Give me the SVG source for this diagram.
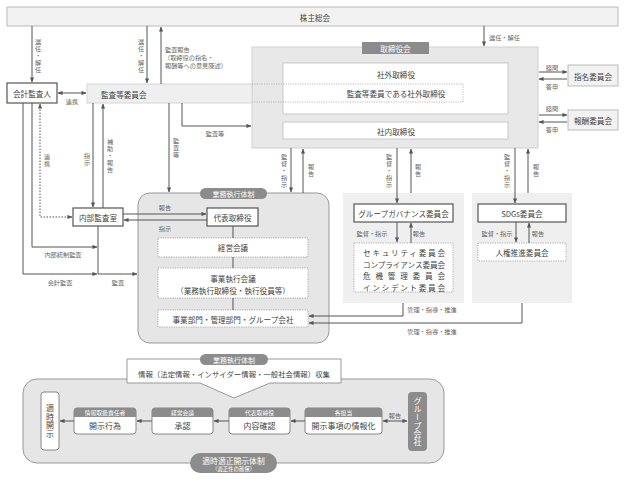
<svg xmlns="http://www.w3.org/2000/svg" width="625" height="482" viewBox="0 0 625 482">
<defs>
<style>
text{font-family:"Noto Sans CJK JP","Noto Sans",sans-serif;fill:#444;dominant-baseline:central;text-anchor:middle}
.t{font-size:7.6px}
.s{font-size:6.2px;fill:#666}
.v{writing-mode:vertical-rl;letter-spacing:0.8px}
.w{fill:#fff}
.lt{fill:#f2f2f2;stroke:#bbb;stroke-width:1}
.dk{fill:#fff;stroke:#555;stroke-width:1.2}
.wb{fill:#fff;stroke:#c8c8c8;stroke-width:1}
.dot{fill:#fff;stroke:#999;stroke-width:0.8;stroke-dasharray:1.2,1.2}
.tab{fill:#8c8c8c}
.c path,.c line{fill:none;stroke:#555;stroke-width:1}
.c .a{marker-end:url(#ah)}
.c .b{marker-start:url(#ah);marker-end:url(#ah)}
.c .d{stroke-dasharray:1.5,1.5}
</style>
<marker id="ah" viewBox="0 0 6 6" refX="5.5" refY="3" markerWidth="5" markerHeight="5" orient="auto-start-reverse" markerUnits="userSpaceOnUse">
<path d="M0,0.5 L6,3 L0,5.5 Z" fill="#555"/>
</marker>
</defs>
<rect width="625" height="482" fill="#fff"/>

<g id="kabunushi">
<rect class="lt" x="7" y="7" width="611" height="19"/>
<text class="t" x="315" y="17">株主総会</text>
</g>

<g id="torishimariyakukai">
<rect x="252" y="47" width="286" height="101" fill="#e8e8e8" stroke="#cfcfcf"/>
<rect class="tab" x="362" y="42" width="67" height="12"/>
<text class="t w" x="395.5" y="48">取締役会</text>
<rect class="wb" x="283" y="63" width="225" height="51"/>
<text class="t" x="396" y="74">社外取締役</text>
<rect class="wb" x="283" y="122" width="225" height="17"/>
<text class="t" x="396" y="131">社内取締役</text>
</g>

<g id="kansatou">
<rect x="87" y="84" width="165" height="19" fill="#efefef" stroke="#d6d6d6"/>
<text class="t" x="101" y="94" style="text-anchor:start">監査等委員会</text>
<path d="M252,84 H463 V102 H252" fill="none" stroke="#aaa" stroke-width="0.8" stroke-dasharray="1.2,1.2"/>
<text class="t" x="396" y="93.5">監査等委員である社外取締役</text>
</g>

<g id="kaikei">
<rect class="dk" x="7" y="83" width="50" height="20"/>
<text class="t" x="32" y="93">会計監査人</text>
</g>

<g id="shimei">
<rect class="lt" x="568" y="65" width="50" height="21"/>
<text class="t" x="593" y="76">指名委員会</text>
</g>
<g id="houshu">
<rect class="lt" x="568" y="110" width="50" height="20"/>
<text class="t" x="593" y="120">報酬委員会</text>
</g>

<g id="naibu">
<rect class="dk" x="73" y="208" width="50" height="18"/>
<text class="t" x="98" y="217">内部監査室</text>
</g>

<g id="gyomu">
<rect x="138" y="193" width="191" height="150" rx="12" fill="#e6e6e6" stroke="#999"/>
<rect class="tab" x="200" y="188" width="67" height="11" rx="5.5"/>
<text class="t w" x="233.5" y="193.5" style="font-size:7px">業務執行体制</text>
<rect class="dk" x="207" y="208" width="51" height="18"/>
<text class="t" x="232.5" y="217">代表取締役</text>
<rect class="dot" x="158" y="238" width="150" height="19"/>
<text class="t" x="233" y="247.5">経営会議</text>
<rect class="dot" x="158" y="268" width="150" height="30"/>
<text class="t" x="233" y="278.5">事業執行会議</text>
<text class="t" x="233" y="290">（業務執行取締役・執行役員等）</text>
<rect class="dot" x="158" y="310" width="150" height="17"/>
<text class="t" x="233" y="319">事業部門・管理部門・グループ会社</text>
</g>

<g id="gg">
<rect x="343" y="193" width="121" height="110" fill="#efefef"/>
<rect class="dk" x="354" y="204" width="99" height="18"/>
<text class="t" x="403.5" y="213">グループガバナンス委員会</text>
<rect class="dot" x="354" y="243" width="99" height="49"/>
<text class="t" x="404" y="252.5" textLength="82" lengthAdjust="spacing">セキュリティ委員会</text>
<text class="t" x="404" y="264" textLength="82" lengthAdjust="spacing">コンプライアンス委員会</text>
<text class="t" x="404" y="275.5" textLength="82" lengthAdjust="spacing">危機管理委員会</text>
<text class="t" x="404" y="287" textLength="82" lengthAdjust="spacing">インシデント委員会</text>
</g>

<g id="sdgs">
<rect x="472" y="193" width="100" height="110" fill="#efefef"/>
<rect class="dk" x="478" y="204" width="88" height="18"/>
<text class="t" x="522" y="213">SDGs委員会</text>
<rect class="dot" x="478" y="243" width="88" height="18"/>
<text class="t" x="522" y="252">人権推進委員会</text>
</g>

<g id="disclosure">
<rect x="23" y="379" width="421" height="84" rx="14" fill="#e6e6e6" stroke="#999"/>
<path d="M127,359 H341 V383 H270 L234,398 L200,383 H127 Z" fill="#fff" stroke="#999"/>
<rect class="tab" x="200" y="354" width="68" height="11" rx="5.5"/>
<text class="t w" x="234" y="359.5" style="font-size:7px">業務執行体制</text>
<text class="t" x="234" y="373" style="font-size:7.4px">情報（法定情報・インサイダー情報・一般社会情報）収集</text>
<rect x="41" y="392" width="18" height="58" rx="3" fill="#fff" stroke="#888"/>
<text class="t v" x="50" y="421" style="font-size:8px;letter-spacing:0.5px">適時開示</text>

<rect x="74" y="408" width="62" height="26" rx="3" fill="#fff" stroke="#888"/>
<path d="M74,417 V411 A3,3 0 0 1 77,408 H133 A3,3 0 0 1 136,411 V417 Z" fill="#8c8c8c"/>
<text class="w" x="105" y="412.7" style="font-size:5.8px">情報取扱責任者</text>
<text class="t" x="105" y="425.5" style="font-size:8px">開示行為</text>

<rect x="152" y="408" width="61" height="26" rx="3" fill="#fff" stroke="#888"/>
<path d="M152,417 V411 A3,3 0 0 1 155,408 H210 A3,3 0 0 1 213,411 V417 Z" fill="#8c8c8c"/>
<text class="w" x="182.5" y="412.7" style="font-size:5.8px">経営会議</text>
<text class="t" x="182.5" y="425.5" style="font-size:8px">承認</text>

<rect x="229" y="408" width="61" height="26" rx="3" fill="#fff" stroke="#888"/>
<path d="M229,417 V411 A3,3 0 0 1 232,408 H287 A3,3 0 0 1 290,411 V417 Z" fill="#8c8c8c"/>
<text class="w" x="259.5" y="412.7" style="font-size:5.8px">代表取締役</text>
<text class="t" x="259.5" y="425.5" style="font-size:8px">内容確認</text>

<rect x="305" y="408" width="77" height="26" rx="3" fill="#fff" stroke="#888"/>
<path d="M305,417 V411 A3,3 0 0 1 308,408 H379 A3,3 0 0 1 382,411 V417 Z" fill="#8c8c8c"/>
<text class="w" x="343.5" y="412.7" style="font-size:5.8px">各担当</text>
<text class="t" x="343.5" y="425.5" style="font-size:8px">開示事項の情報化</text>

<rect x="408" y="392" width="19" height="59" rx="4" fill="#8c8c8c"/>
<text class="t v w" x="417.5" y="421.5" style="font-size:8px;letter-spacing:0.2px">グループ会社</text>

<rect x="190" y="453" width="87" height="20" rx="10" fill="#8c8c8c"/>
<text class="w" x="233.5" y="460" style="font-size:7.8px">適時適正開示体制</text>
<text class="w" x="233.5" y="468.5" style="font-size:5.4px">（適正性の確保）</text>
</g>

<g id="connectors" class="c">
<path class="a" d="M32,26 V82"/>
<path class="a" d="M147,26 V83"/>
<path class="a" d="M161,84 V27"/>
<path class="a" d="M484,26 V46"/>
<path class="b" d="M58,93 H86"/>
<path class="a" d="M93,103 V207"/>
<path class="a" d="M103,208 V104"/>
<path class="b d" d="M72,217 H40 V104"/>
<path class="a" d="M32,103 V247 H97"/>
<path class="a" d="M23,103 V274 H97"/>
<path class="a" d="M98,226 V274 H137"/>
<path class="a" d="M169,103 V192"/>
<path class="a" d="M182,103 V126 H251"/>
<path class="a" d="M123,214 H206"/>
<path class="a" d="M207,220 H124"/>
<path class="a" d="M291,148 V192"/>
<path class="a" d="M303,193 V149"/>
<path class="a" d="M397,148 V203"/>
<path class="a" d="M411,193 V149"/>
<path class="a" d="M515,148 V203"/>
<path class="a" d="M528,193 V149"/>
<path class="a" d="M539,72 H567"/>
<path class="a" d="M567,79 H539"/>
<path class="a" d="M539,115 H567"/>
<path class="a" d="M567,122 H539"/>
<path class="a" d="M397,222 V242"/>
<path class="a" d="M411,243 V223"/>
<path class="a" d="M516,222 V242"/>
<path class="a" d="M529,243 V223"/>
<path class="a" d="M403,303 V316 H309"/>
<path class="a" d="M522,303 V323 H309"/>
<path d="M233,226 V238 M233,257 V268 M233,298 V310"/>
<path class="a" d="M152,421 H137"/>
<path class="a" d="M229,421 H214"/>
<path class="a" d="M305,421 H291"/>
<path class="a" d="M74,421 H60"/>
<path class="b" d="M383,421 H407"/>
</g>

<g id="labels">
<text class="s v" x="38" y="56">選任・解任</text>
<text class="s v" x="141" y="56">選任・解任</text>
<text class="s" x="165" y="49" style="text-anchor:start">監査報告</text>
<text class="s" x="164" y="57" style="text-anchor:start">（取締役の指名・</text>
<text class="s" x="165" y="65" style="text-anchor:start">報酬等への意見陳述）</text>
<text class="s" x="489" y="37" style="text-anchor:start">選任・解任</text>
<text class="s" x="72" y="101">連携</text>
<text class="s v" x="87" y="160">指示</text>
<text class="s v" x="110" y="156">補助・報告</text>
<text class="s v" x="47" y="161">連携</text>
<text class="s v" x="176" y="148">監査等</text>
<text class="s" x="215" y="133">監査等</text>
<text class="s" x="165" y="207">報告</text>
<text class="s" x="165" y="228">指示</text>
<text class="s" x="63" y="254">内部統制監査</text>
<text class="s" x="60" y="282">会計監査</text>
<text class="s" x="118" y="282">監査</text>
<text class="s v" x="284" y="171">監督・指示</text>
<text class="s v" x="311" y="171">報告</text>
<text class="s v" x="389" y="171">監督・指示</text>
<text class="s v" x="418" y="171">報告</text>
<text class="s v" x="507" y="171">監督・指示</text>
<text class="s v" x="536" y="171">報告</text>
<text class="s" x="552" y="67">諮問</text>
<text class="s" x="552" y="86">答申</text>
<text class="s" x="552" y="108">諮問</text>
<text class="s" x="552" y="129">答申</text>
<text class="s" x="372" y="233">監督・指示</text>
<text class="s" x="419" y="233">報告</text>
<text class="s" x="497" y="233">監督・指示</text>
<text class="s" x="538" y="233">報告</text>
<text class="s" x="432" y="309">管理・指導・推進</text>
<text class="s" x="432" y="331">管理・指導・推進</text>
<text class="s" x="395" y="415">報告</text>
</g>
</svg>
